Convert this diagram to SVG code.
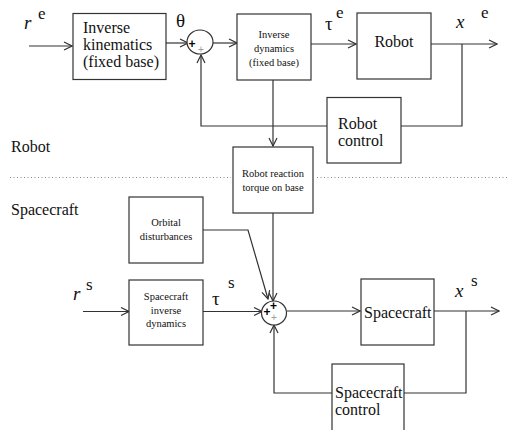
<svg xmlns="http://www.w3.org/2000/svg" width="508" height="430" viewBox="0 0 508 430" font-family="'Liberation Serif', 'Times New Roman', 'DejaVu Serif', serif">
<defs>
<style>
.box{fill:#fff;stroke:#333;stroke-width:1.2}
.ln{fill:none;stroke:#333;stroke-width:1.2}
.ar{marker-end:url(#arr)}
.t{font-family:'Liberation Serif','Times New Roman','DejaVu Serif',serif;fill:#111}
.l16{font-size:16px}
.s11{font-size:10.5px;text-anchor:middle}
.sym{font-size:19px}
.sup{font-size:17px}
.plus{font-family:'Liberation Sans',Arial,sans-serif;font-weight:bold;font-size:12px;fill:#000;text-anchor:middle}
.gplus{font-family:'Liberation Sans',Arial,sans-serif;font-size:10px;fill:#999;text-anchor:middle}
</style>
<marker id="arr" markerWidth="10" markerHeight="10" refX="9" refY="5" orient="auto" markerUnits="userSpaceOnUse">
<path d="M1,1 L9,5 L1,9" fill="none" stroke="#333" stroke-width="1.2"/>
</marker>
</defs>
<rect width="508" height="430" fill="#fff"/>

<g id="connectors">
<path class="ln ar" d="M29,46 H72"/>
<path class="ln ar" d="M166,43 H188"/>
<path class="ln ar" d="M213,43 H237"/>
<path class="ln ar" d="M311,44 H356"/>
<path class="ln ar" d="M431,44 H497"/>
<path class="ln" d="M462,44 V126 H401"/>
<path class="ln ar" d="M327,126 H201 V55"/>
<path class="ln ar" d="M273,80 V146"/>
<path class="ln ar" d="M273,213 V301"/>
<path class="ln ar" d="M203,230 H248 L268,299"/>
<path class="ln ar" d="M83,311.5 H129"/>
<path class="ln ar" d="M203,311.5 H262"/>
<path class="ln ar" d="M287,311 H360"/>
<path class="ln ar" d="M434,311 H499"/>
<path class="ln" d="M466,311 V393 H404"/>
<path class="ln ar" d="M332,393 H274 V325"/>
<path d="M10,177.5 H231 M317,177.5 H507" fill="none" stroke="#888" stroke-width="1" stroke-dasharray="1 2.5"/>
</g>

<g id="sum1">
<ellipse cx="200" cy="42" rx="13" ry="12" class="box"/>
<text x="192" y="47.5" class="plus">+</text>
<text x="201" y="53" class="gplus">+</text>
</g>
<g id="sum2">
<ellipse cx="274" cy="313" rx="12.5" ry="12" class="box"/>
<text x="267" y="315.5" class="plus">+</text>
<text x="273.5" y="310" class="plus">+</text>
<text x="274" y="320.5" class="gplus">+</text>
</g>

<g id="ik">
<rect x="73" y="13.5" width="93" height="66" class="box"/>
<text class="t l16" x="83" y="33" font-size="16.5">Inverse</text>
<text class="t l16" x="83" y="50" font-size="16.5">kinematics</text>
<text class="t l16" x="83" y="67" font-size="16.5">(fixed base)</text>
</g>
<g id="id">
<rect x="237" y="14" width="74" height="66" class="box"/>
<text class="t s11" x="274" y="38">Inverse</text>
<text class="t s11" x="274" y="52">dynamics</text>
<text class="t s11" x="274" y="66">(fixed base)</text>
</g>
<g id="robot">
<rect x="357" y="13" width="74" height="66" class="box"/>
<text class="t l16" x="394" y="47" text-anchor="middle">Robot</text>
</g>
<g id="robotcontrol">
<rect x="327" y="97.5" width="74" height="65.5" class="box"/>
<text class="t l16" x="338" y="128.5">Robot</text>
<text class="t l16" x="338" y="145.5">control</text>
</g>
<g id="reaction">
<rect x="233" y="147" width="80" height="66" class="box"/>
<text class="t s11" x="273" y="177">Robot reaction</text>
<text class="t s11" x="273" y="191">torque on base</text>
</g>
<g id="orbital">
<rect x="129" y="197" width="74" height="66" class="box"/>
<text class="t s11" x="166" y="226">Orbital</text>
<text class="t s11" x="166" y="240">disturbances</text>
</g>
<g id="scinv">
<rect x="129" y="280" width="74" height="65" class="box"/>
<text class="t s11" x="166" y="300">Spacecraft</text>
<text class="t s11" x="166" y="313.5">inverse</text>
<text class="t s11" x="166" y="327">dynamics</text>
</g>
<g id="spacecraft">
<rect x="361" y="279" width="73" height="66" class="box"/>
<text class="t l16" x="364" y="318">Spacecraft</text>
</g>
<g id="sccontrol">
<rect x="332" y="364" width="72" height="72" class="box"/>
<text class="t l16" x="335" y="398">Spacecraft</text>
<text class="t l16" x="335" y="415">control</text>
</g>

<g id="labels">
<text class="t sym" x="24" y="29" font-style="italic">r</text>
<text class="t sup" x="38" y="19">e</text>
<text class="t sym" x="176" y="27">θ</text>
<text class="t sym" x="325" y="30">τ</text>
<text class="t sup" x="336" y="18">e</text>
<text class="t sym" x="456" y="28" font-style="italic">x</text>
<text class="t sup" x="481" y="18">e</text>
<text class="t l16" x="11" y="152">Robot</text>
<text class="t l16" x="11" y="215">Spacecraft</text>
<text class="t sym" x="73" y="300" font-style="italic">r</text>
<text class="t sup" x="86" y="290">s</text>
<text class="t sym" x="212" y="305">τ</text>
<text class="t sup" x="228" y="288">s</text>
<text class="t sym" x="455" y="297" font-style="italic">x</text>
<text class="t sup" x="471" y="286">s</text>
</g>
</svg>
